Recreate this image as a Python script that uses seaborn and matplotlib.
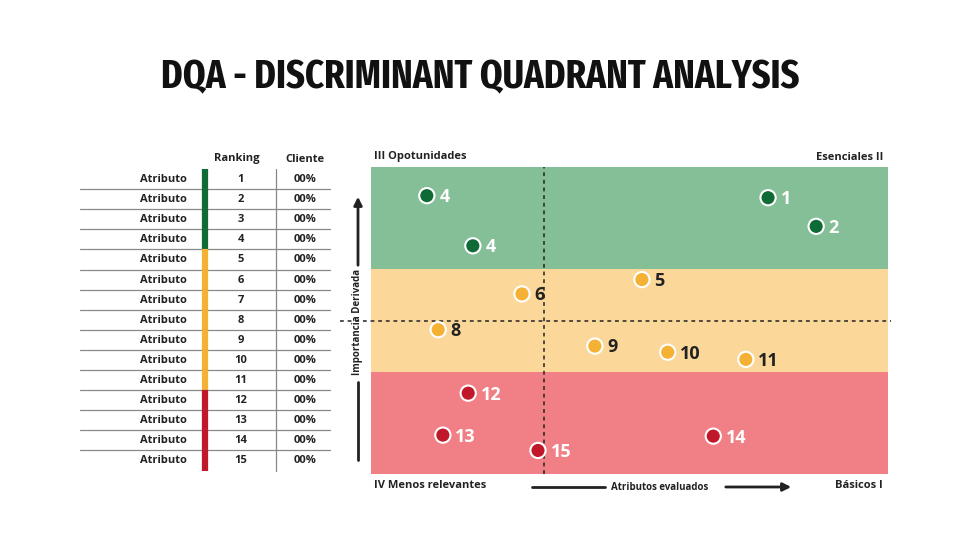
import matplotlib

matplotlib.use("Agg")
import matplotlib.pyplot as plt
import pandas as pd
import seaborn as sns

# points in the quadrant chart
labels = ["1", "2", "4", "4", "5", "6", "8", "9", "10", "11", "12", "13", "14", "15"]
atributos_x = [7.68, 8.61, 1.08, 1.97, 5.24, 2.92, 1.30, 4.33, 5.74, 7.25, 1.88, 1.39, 6.62, 3.23]
importancia_y = [27.0, 24.2, 27.2, 22.3, 19.0, 17.6, 14.1, 12.5, 11.9, 11.2, 7.9, 3.8, 3.7, 2.3]
groups = ["alto"] * 4 + ["medio"] * 6 + ["bajo"] * 4

# table on the left
ranking = list(range(1, 16))
cliente = ["00%"] * 15
rank_group = ["alto"] * 4 + ["medio"] * 7 + ["bajo"] * 4

x_cut = 3.35
y_cut = 15.0
bands = [(0, 10, "bajo"), (10, 20, "medio"), (20, 30, "alto")]

dot_colors = {"alto": "#0E6B35", "medio": "#F5B133", "bajo": "#C0182A"}
band_colors = {"alto": "#85BF98", "medio": "#FBD89A", "bajo": "#F07F86"}
text_colors = {"alto": "white", "medio": "#222222", "bajo": "white"}

sns.set_theme(style="white")
plt.rcParams["font.family"] = ["Open Sans", "DejaVu Sans"]

W, H = 969, 545
fig = plt.figure(figsize=(W / 100, H / 100), dpi=100)

fig.text(480 / W, 1 - 78 / H, "DQA - DISCRIMINANT QUADRANT ANALYSIS", ha="center", va="center",
         fontsize=28.5, fontweight="bold", family=["Fira Sans Extra Condensed", "DejaVu Sans"],
         color="#111111")

# quadrant chart
ax = fig.add_axes([371 / W, (H - 474) / H, 517 / W, 307 / H])
for lo, hi, g in bands:
    ax.axhspan(lo, hi, color=band_colors[g], lw=0, zorder=0)
frame = pd.DataFrame({"x": atributos_x, "y": importancia_y, "group": groups, "label": labels})
sns.scatterplot(data=frame, x="x", y="y", hue="group", palette=dot_colors, s=120,
                edgecolor="white", linewidth=1.5, legend=False, ax=ax, zorder=3)
for _, r in frame.iterrows():
    ax.annotate(r["label"], (r["x"], r["y"]), xytext=(9, -1), textcoords="offset points",
                ha="left", va="center", fontsize=13, fontweight="bold", color=text_colors[r["group"]])
ax.axvline(x_cut, color="#222222", lw=1.1, ls=(0, (2.5, 2.5)), zorder=2)
ax.plot([-0.6, 10.05], [y_cut, y_cut], color="#222222", lw=1.1, ls=(0, (2.5, 2.5)), zorder=2, clip_on=False)
ax.set_xlim(0, 10)
ax.set_ylim(0, 30)
ax.set_xticks([])
ax.set_yticks([])
ax.set_xlabel("")
ax.set_ylabel("")
for s in ax.spines.values():
    s.set_visible(False)

corner = dict(fontsize=8, fontweight="bold", color="#222222", va="center")
fig.text(374 / W, 1 - 157 / H, "III Opotunidades", ha="left", **corner)
fig.text(883 / W, 1 - 157 / H, "Esenciales II", ha="right", **corner)
fig.text(374 / W, 1 - 486 / H, "IV Menos relevantes", ha="left", **corner)
fig.text(883 / W, 1 - 486 / H, "Básicos I", ha="right", **corner)

# axis captions with arrows
ov = fig.add_axes([0, 0, 1, 1], facecolor="none")
ov.set_xlim(0, W)
ov.set_ylim(H, 0)
ov.axis("off")
ov.text(660, 487, "Atributos evaluados", ha="center", va="center", fontsize=7, fontweight="bold", color="#222222")
ov.plot([532, 605], [487, 487], color="#222222", lw=2)
ov.annotate("", xy=(794, 487), xytext=(723, 487),
            arrowprops=dict(arrowstyle="-|>", color="#222222", lw=2, mutation_scale=12))
ov.text(358, 322, "Importancia Derivada", ha="center", va="center", rotation=90, fontsize=7,
        fontweight="bold", color="#222222")
ov.annotate("", xy=(358, 194), xytext=(358, 268),
            arrowprops=dict(arrowstyle="-|>", color="#222222", lw=2, mutation_scale=12))
ov.plot([358, 358], [382, 460], color="#222222", lw=2)

# ranking table
row_h = 20.1
top = 169
ov.text(237, 159, "Ranking", ha="center", va="center", fontsize=8, fontweight="bold", color="#222222")
ov.text(305, 159, "Cliente", ha="center", va="center", fontsize=8, fontweight="bold", color="#222222")
for i, (rk, cl, g) in enumerate(zip(ranking, cliente, rank_group)):
    yc = top + row_h * (i + 0.5) + 0.5
    ov.text(187, yc, "Atributo", ha="right", va="center", fontsize=8, fontweight="bold", color="#222222")
    ov.text(241, yc, str(rk), ha="center", va="center", fontsize=8, fontweight="bold", color="#222222")
    ov.text(305, yc, cl, ha="center", va="center", fontsize=8, fontweight="bold", color="#222222")
    ov.plot([205, 205], [top + row_h * i, top + row_h * (i + 1)], color=dot_colors[g], lw=4.5,
            solid_capstyle="butt")
    if i < len(ranking) - 1:
        ov.plot([80, 330], [top + row_h * (i + 1)] * 2, color="#888888", lw=0.9)
ov.plot([276, 276], [top, top + row_h * len(ranking)], color="#888888", lw=0.9)

fig.savefig("out.png", dpi=100)
